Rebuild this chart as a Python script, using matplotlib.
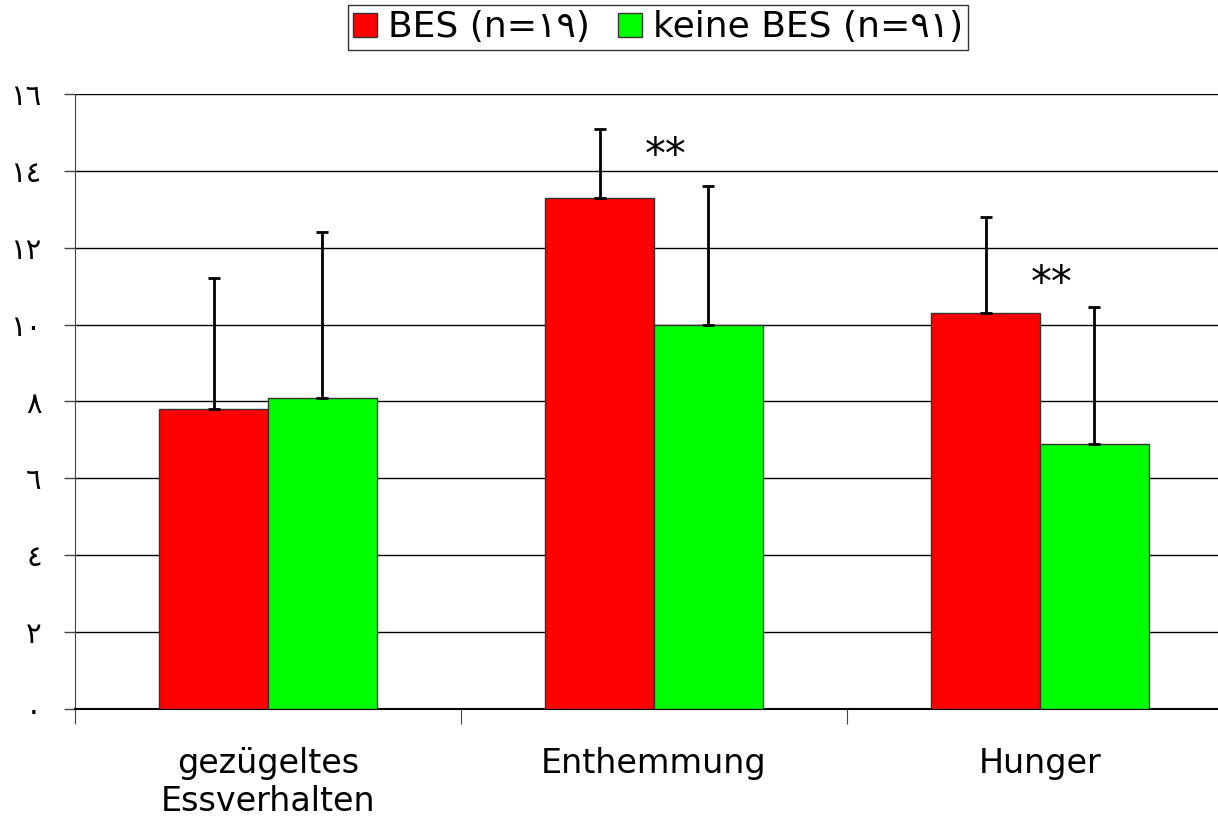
import numpy as np
import matplotlib.pyplot as plt

# Daten
kategorien = ['gezügeltes\nEssverhalten', 'Enthemmung', 'Hunger']
bes_mittel = [7.8, 13.3, 10.3]
bes_sd = [3.4, 1.8, 2.5]
keine_mittel = [8.1, 10.0, 6.9]
keine_sd = [4.3, 3.6, 3.55]
signifikanz = ['', '**', '**']
sig_hoehe = [0, 14.4, 11.05]
y_ticks = [0, 2, 4, 6, 8, 10, 12, 14, 16]
y_labels = ['٠', '٢', '٤', '٦', '٨', '١٠', '١٢', '١٤', '١٦']
legende = ['BES (n=١٩)', 'keine BES (n=٩١)']

plt.rcParams['font.family'] = ['DejaVu Sans']

fig = plt.figure(figsize=(12.18, 8.21), dpi=100)
ax = fig.add_axes([75 / 1218, 112 / 821, 1158 / 1218, 615 / 821])

x = np.arange(len(kategorien))
b = 0.282
err_kw = dict(ecolor='black', elinewidth=2, capsize=4, capthick=2)
ax.bar(x - b / 2, bes_mittel, b, color='#ff0000', edgecolor='#333333', linewidth=1,
       yerr=[np.zeros(3), bes_sd], error_kw=err_kw, label=legende[0], zorder=3)
ax.bar(x + b / 2, keine_mittel, b, color='#00ff00', edgecolor='#333333', linewidth=1,
       yerr=[np.zeros(3), keine_sd], error_kw=err_kw, label=legende[1], zorder=3)

for i, s in enumerate(signifikanz):
    if s:
        ax.text(x[i] + 0.03, sig_hoehe[i], s, ha='center', va='center', fontsize=30)

ax.set_xlim(-0.5, 2.5)
ax.set_ylim(0, 16)
ax.set_yticks(y_ticks)
ax.set_yticklabels(y_labels, fontsize=21)
ax.yaxis.grid(True, color='black', linewidth=1)
ax.set_axisbelow(True)
ax.tick_params(axis='y', length=8, width=1, pad=16, color='#444444')

ax.set_xticks([-0.5, 0.5, 1.5, 2.5])
ax.set_xticklabels([])
ax.set_xticks(x, minor=True)
ax.set_xticklabels(kategorien, minor=True, fontsize=24, linespacing=1.2)
ax.tick_params(axis='x', which='major', length=11, color='#444444')
ax.tick_params(axis='x', which='minor', length=0, pad=27)

for s in ['top', 'right']:
    ax.spines[s].set_visible(False)
ax.spines['left'].set_color('#444444')
ax.spines['bottom'].set_color('black')
ax.spines['bottom'].set_linewidth(1.5)

leg = fig.legend(loc='upper center', bbox_to_anchor=(658 / 1218, 1 - 5 / 821), ncol=2,
                 fontsize=26, frameon=True, fancybox=False, edgecolor='black',
                 handlelength=0.65, handleheight=0.65, handletextpad=0.3,
                 columnspacing=0.8, borderpad=0.15, borderaxespad=0)
leg.get_frame().set_linewidth(1)

fig.savefig('out.png', dpi=100)
